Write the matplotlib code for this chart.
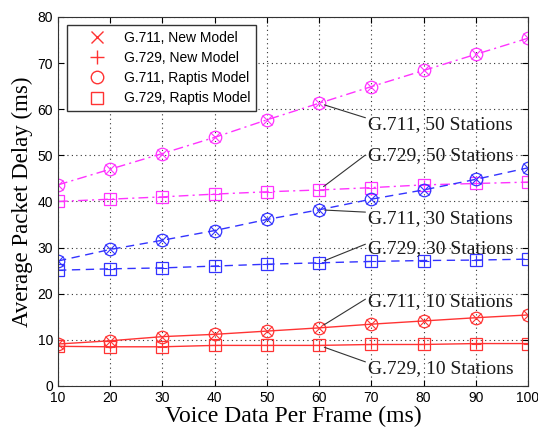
import numpy as np
import matplotlib.pyplot as plt
from matplotlib.lines import Line2D

frame = [10, 20, 30, 40, 50, 60, 70, 80, 90, 100]

g711_50 = [43.6, 47.0, 50.4, 53.9, 57.7, 61.3, 64.9, 68.4, 71.9, 75.4]
g729_50 = [40.0, 40.5, 41.0, 41.6, 42.1, 42.5, 43.0, 43.6, 43.9, 44.2]
g711_30 = [27.1, 29.6, 31.6, 33.7, 36.1, 38.2, 40.5, 42.5, 44.8, 47.3]
g729_30 = [25.1, 25.4, 25.6, 26.0, 26.4, 26.7, 27.0, 27.2, 27.3, 27.5]
g711_10 = [9.1, 9.8, 10.7, 11.2, 11.9, 12.6, 13.4, 14.1, 14.8, 15.4]
g729_10 = [8.6, 8.5, 8.5, 8.8, 8.8, 8.8, 9.0, 9.0, 9.2, 9.2]

legend_labels = ["G.711, New Model", "G.729, New Model",
                 "G.711, Raptis Model", "G.729, Raptis Model"]

magenta = '#ff33ff'
blue = '#3333ff'
red = '#ff3333'

fig = plt.figure(figsize=(5.38, 4.32), dpi=100)
ax = fig.add_axes([0.1078, 0.1065, 0.8736, 0.8542])

series = [
    (g711_50, 'x', 'o', magenta, (0, (7, 3, 1.5, 3))),
    (g729_50, '+', 's', magenta, (0, (7, 3, 1.5, 3))),
    (g711_30, 'x', 'o', blue, (0, (6, 4))),
    (g729_30, '+', 's', blue, (0, (6, 4))),
    (g711_10, 'x', 'o', red, '-'),
    (g729_10, '+', 's', red, '-'),
]

for vals, m_new, m_rap, col, ls in series:
    ax.plot(frame, vals, color=col, linestyle=ls, linewidth=1.0,
            marker=m_new, markersize=7, markeredgewidth=0.8)
    ax.plot(frame, vals, color=col, linestyle='none',
            marker=m_rap, markersize=9 if m_rap == 'o' else 8,
            markerfacecolor='none', markeredgewidth=0.9)

# text labels with leader lines to the 60 ms point
notes = [
    ("G.711, 50 Stations", g711_50, 69.4, 55.7, 0.85),
    ("G.729, 50 Stations", g729_50, 69.4, 49.0, 0.65),
    ("G.711, 30 Stations", g711_30, 69.4, 35.4, 0.85),
    ("G.729, 30 Stations", g729_30, 69.4, 28.9, 0.8),
    ("G.711, 10 Stations", g711_10, 69.4, 17.3, 0.75),
    ("G.729, 10 Stations", g729_10, 69.4, 2.75, 0.85),
]
for txt, vals, tx, ty, rp in notes:
    ax.annotate(txt, xy=(60, vals[5]), xytext=(tx, ty),
                textcoords='data', va='baseline', ha='left',
                fontsize=14, family='Liberation Serif', color='#1a1a1a',
                arrowprops=dict(arrowstyle='-', color='#333333', lw=0.8,
                                shrinkA=0, shrinkB=4, relpos=(0, rp)))

ax.set_xlim(10, 100)
ax.set_ylim(0, 80)
ax.set_xticks(frame)
ax.set_yticks(range(0, 81, 10))
ax.grid(True, color='#333333', linestyle=(0, (1, 3)), linewidth=0.8)
ax.tick_params(direction='in', top=True, right=True, length=4, labelsize=10)
for lab in ax.get_xticklabels() + ax.get_yticklabels():
    lab.set_family('Liberation Sans')
for sp in ax.spines.values():
    sp.set_color('#333333')

ax.set_xlabel("Voice Data Per Frame (ms)", fontsize=17,
              family='Liberation Serif', labelpad=1)
ax.set_ylabel("Average Packet Delay (ms)", fontsize=16.5,
              family='Liberation Serif', labelpad=3)

handles = [
    Line2D([], [], color=red, linestyle='none', marker='x', markersize=8),
    Line2D([], [], color=red, linestyle='none', marker='+', markersize=10),
    Line2D([], [], color=red, linestyle='none', marker='o', markersize=9,
           markerfacecolor='none'),
    Line2D([], [], color=red, linestyle='none', marker='s', markersize=8,
           markerfacecolor='none'),
]
leg = ax.legend(handles, legend_labels, loc='upper left',
                bbox_to_anchor=(0.019, 0.978), borderaxespad=0,
                fancybox=False, edgecolor='#333333', framealpha=1,
                prop={'family': 'Liberation Sans', 'size': 10},
                handlelength=3.6, handletextpad=0.1,
                labelspacing=0.45, borderpad=0.4)
leg.get_frame().set_linewidth(1.0)

fig.savefig('out.png', dpi=100)
